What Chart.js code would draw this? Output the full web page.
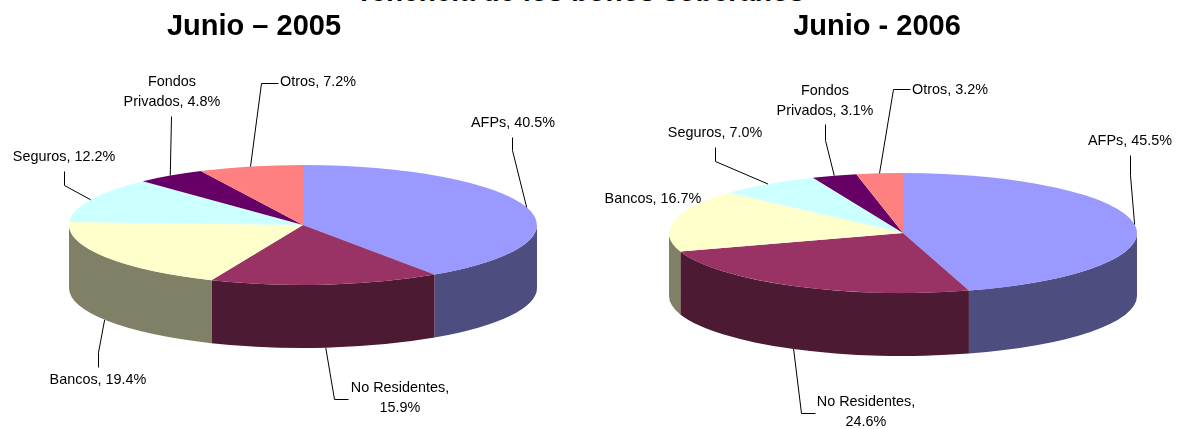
<!DOCTYPE html>
<html>
<head>
<meta charset="utf-8">
<title>Tenencia de los bonos soberanos</title>
<script src="https://cdn.jsdelivr.net/npm/chart.js@4"></script>
<style>
  html, body { margin: 0; padding: 0; background: #fff; overflow: hidden; }
  body { width: 1179px; height: 429px; position: relative; }
  canvas { position: absolute; top: 0; }
  #chart2005 { left: 0; }
  #chart2006 { left: 590px; }
  #heading {
    position: absolute; left: 0; width: 1160px; top: -24px;
    text-align: center; font: bold 28px "Liberation Sans", Arial, sans-serif; color: #000; white-space: nowrap;
  }
</style>
</head>
<body>
<div id="heading">Tenencia de los bonos soberanos</div>
<canvas id="chart2005" width="590" height="429"></canvas>
<canvas id="chart2006" width="589" height="429"></canvas>
<script>
// data
const categories = ["AFPs", "No Residentes", "Bancos", "Seguros", "Fondos Privados", "Otros"];
const values2005 = [40.5, 15.9, 19.4, 12.2, 4.8, 7.2];
const values2006 = [45.5, 24.6, 16.7, 7.0, 3.1, 3.2];
const topColors = ["#9999ff", "#993366", "#ffffcc", "#ccffff", "#660066", "#ff8080"];
const sideColors = ["#4d4d80", "#4d1a33", "#808066", "#668080", "#330033", "#804040"];

// label placement, same order as categories: text centre and leader bend points
const layout2005 = {
  title: { text: "Junio \u2013 2005", x: 254, y: 27 },
  labels: [
    { x: 513, y: 122, bends: [[512, 150], [512, 137]] },
    { x: 400, y: 387, bends: [[334, 399], [348, 399]] },
    { x: 98, y: 379, bends: [[98, 352], [98, 367]] },
    { x: 64, y: 156, bends: [[64, 185], [64, 171]] },
    { x: 172, y: 81, bends: [[171, 116]] },
    { x: 318, y: 81, bends: [[261, 83], [278, 83]] },
  ],
};
const layout2006 = {
  title: { text: "Junio - 2006", x: 287, y: 27 },
  labels: [
    { x: 540, y: 140, bends: [[540, 175], [540, 155]] },
    { x: 276, y: 401, bends: [[211, 413], [225, 413]] },
    { x: 63, y: 198, bends: null },
    { x: 125, y: 132, bends: [[125, 161], [125, 147]] },
    { x: 235, y: 90, bends: [[235, 140], [235, 124]] },
    { x: 360, y: 89, bends: [[303, 89], [320, 89]] },
  ],
};

const FONT = '"Liberation Sans", Arial, sans-serif';
const RADIUS = 234;
const SQUASH = 60 / 234; // tilt of the pie, ry / rx
const DEPTH = 63;

function labelLines(i, value) {
  const text = categories[i] + ", " + value.toFixed(1) + "%";
  return text.replace("Fondos ", "Fondos\n").replace("Residentes, ", "Residentes,\n").split("\n");
}

// squashes the arcs into an ellipse and gives them a side wall
const tiltedPie = {
  id: "tiltedPie",
  beforeDatasetsDraw(chart) {
    const ctx = chart.ctx;
    const arcs = chart.getDatasetMeta(0).data;
    const cx = arcs[0].x, cy = arcs[0].y;
    ctx.save();
    ctx.translate(cx, cy);
    ctx.scale(1, SQUASH);
    ctx.translate(-cx, -cy);
    const drop = DEPTH / SQUASH;
    arcs.forEach((arc, i) => {
      // only the part between 0 and PI faces the viewer
      const a = Math.max(arc.startAngle, 0);
      const b = Math.min(arc.endAngle, Math.PI);
      if (a >= b) return;
      ctx.beginPath();
      ctx.arc(cx, cy, arc.outerRadius, a, b);
      ctx.arc(cx, cy + drop, arc.outerRadius, b, a, true);
      ctx.closePath();
      ctx.fillStyle = sideColors[i];
      ctx.fill();
    });
  },
  afterDatasetsDraw(chart) {
    chart.ctx.restore();
  },
};

// callout labels and leader lines, anchored on the middle of each arc
const calloutLabels = {
  id: "calloutLabels",
  afterDraw(chart, args, opts) {
    const ctx = chart.ctx;
    const arcs = chart.getDatasetMeta(0).data;
    const values = chart.data.datasets[0].data;
    ctx.save();
    ctx.strokeStyle = "#000";
    ctx.lineWidth = 1;
    ctx.fillStyle = "#000";
    ctx.textAlign = "center";
    ctx.textBaseline = "middle";
    ctx.font = "14.4px " + FONT;
    opts.layout.labels.forEach((label, i) => {
      const arc = arcs[i];
      const mid = (arc.startAngle + arc.endAngle) / 2;
      if (label.bends) {
        const ax = arc.x + arc.outerRadius * Math.cos(mid);
        let ay = arc.y + arc.outerRadius * SQUASH * Math.sin(mid);
        if (Math.sin(mid) > 0) ay += DEPTH;
        ctx.beginPath();
        ctx.moveTo(ax, ay);
        label.bends.forEach(p => ctx.lineTo(p[0] + 0.5, p[1] + 0.5));
        ctx.stroke();
      }
      labelLines(i, values[i]).forEach((line, n) => {
        ctx.fillText(line, label.x, label.y + 1 + n * 20.5);
      });
    });
    ctx.font = "bold 29px " + FONT;
    ctx.fillText(opts.layout.title.text, opts.layout.title.x, opts.layout.title.y);
    ctx.restore();
  },
};

function makePie(id, values, layout, padLeft, padTop) {
  return new Chart(document.getElementById(id), {
    type: "pie",
    plugins: [tiltedPie, calloutLabels],
    data: {
      labels: categories,
      datasets: [{
        data: values,
        backgroundColor: topColors,
        borderWidth: 0,
        clip: false,
      }],
    },
    options: {
      responsive: false,
      animation: false,
      radius: RADIUS,
      layout: { padding: { left: padLeft, top: padTop } },
      plugins: {
        legend: { display: false },
        tooltip: { enabled: false },
        calloutLabels: { layout },
      },
    },
  });
}

makePie("chart2005", values2005, layout2005, 16, 21);
makePie("chart2006", values2006, layout2006, 37, 37);
</script>
</body>
</html>
